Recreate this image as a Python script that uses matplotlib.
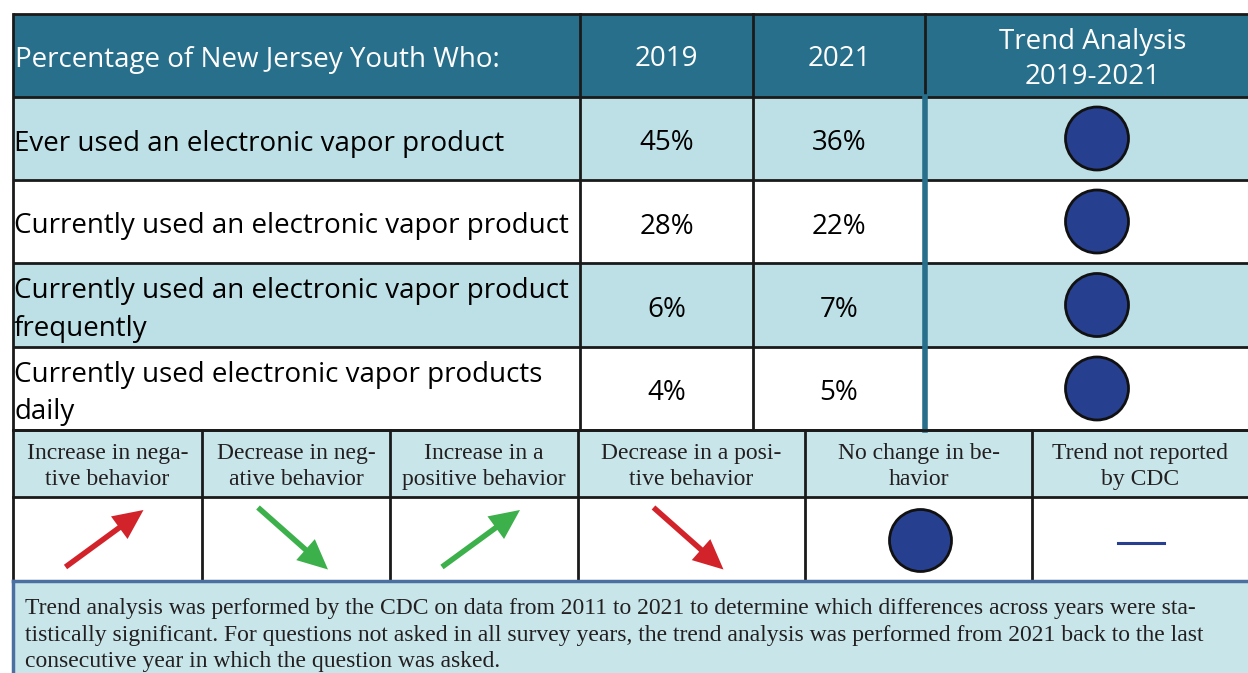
import matplotlib.pyplot as plt
from matplotlib.patches import Rectangle, Circle, FancyArrow

# table content
header = ['Percentage of New Jersey Youth Who:', '2019', '2021', 'Trend Analysis\n2019-2021']
behaviors = ['Ever used an electronic vapor product',
             'Currently used an electronic vapor product',
             'Currently used an electronic vapor product\nfrequently',
             'Currently used electronic vapor products\ndaily']
pct_2019 = ['45%', '28%', '6%', '4%']
pct_2021 = ['36%', '22%', '7%', '5%']
trend = ['nochange', 'nochange', 'nochange', 'nochange']

legend_labels = ['Increase in nega-\ntive behavior', 'Decrease in neg-\native behavior',
                 'Increase in a\npositive behavior', 'Decrease in a posi-\ntive behavior',
                 'No change in be-\nhavior', 'Trend not reported\nby CDC']
legend_kind = ['up_red', 'down_green', 'up_green', 'down_red', 'nochange', 'notreported']

footnote = ('Trend analysis was performed by the CDC on data from 2011 to 2021 to determine which differences across years were sta-\n'
            'tistically significant. For questions not asked in all survey years, the trend analysis was performed from 2021 back to the last\n'
            'consecutive year in which the question was asked.')

# colours
TEAL = '#276f8a'
LIGHT = '#bde0e6'
LEG_BG = '#c8e6ea'
DOT = '#263f8f'
RED = '#d2232a'
GREEN = '#3cb04a'

W, H = 1248, 673
fig = plt.figure(figsize=(W / 100, H / 100), dpi=100)
ax = fig.add_axes([0, 0, 1, 1])
ax.set_xlim(0, W)
ax.set_ylim(H, 0)
ax.axis('off')

sans = 'Open Sans'
serif = 'Liberation Serif'
FS = 20
SFS = 17

# layout of the main table
col_x = [13, 580, 753, 925, 1260]
row_y = [14, 97, 180, 263, 347, 430]

# header row
ax.add_patch(Rectangle((col_x[0], row_y[0]), col_x[-1] - col_x[0], row_y[1] - row_y[0],
                       facecolor=TEAL, edgecolor='none'))
ax.text(col_x[0] + 2, (row_y[0] + row_y[1]) / 2 + 4, header[0], fontsize=FS, family=sans,
        color='white', ha='left', va='center')
for j in range(1, 4):
    xc = (col_x[j] + col_x[j + 1]) / 2 if j < 3 else 1093
    ax.text(xc, (row_y[0] + row_y[1]) / 2 + 4, header[j], fontsize=FS, family=sans,
            color='white', ha='center', va='center', linespacing=1.34)

# body rows
for i, label in enumerate(behaviors):
    y0, y1 = row_y[i + 1], row_y[i + 2]
    yc = (y0 + y1) / 2
    bg = LIGHT if i % 2 == 0 else 'white'
    ax.add_patch(Rectangle((col_x[0], y0), col_x[-1] - col_x[0], y1 - y0,
                           facecolor=bg, edgecolor='none'))
    ax.text(col_x[0] + 1, yc + 5, label, fontsize=FS, family=sans, color='black',
            ha='left', va='center', linespacing=1.45)
    ax.text((col_x[1] + col_x[2]) / 2, yc + 5, pct_2019[i], fontsize=FS, family=sans,
            color='black', ha='center', va='center')
    ax.text((col_x[2] + col_x[3]) / 2, yc + 5, pct_2021[i], fontsize=FS, family=sans,
            color='black', ha='center', va='center')
    if trend[i] == 'nochange':
        ax.add_patch(Circle((1097, yc), 31.5, facecolor=DOT, edgecolor='#111111', lw=2))

# grid lines of the main table
for y in row_y:
    ax.plot([col_x[0], W], [y, y], color='#1a1a1a', lw=2, solid_capstyle='butt')
for x in col_x[:3]:
    ax.plot([x, x], [row_y[0], row_y[-1]], color='#1a1a1a', lw=2)
ax.plot([col_x[3], col_x[3]], [row_y[0], row_y[1]], color='#1a1a1a', lw=2)
ax.plot([col_x[3], col_x[3]], [row_y[1], row_y[-1]], color=TEAL, lw=4)

# legend table
leg_x = [13, 202, 390, 578, 805, 1032, 1260]
leg_y = [430, 497, 580]
ax.add_patch(Rectangle((leg_x[0], leg_y[0]), W - leg_x[0], leg_y[1] - leg_y[0],
                       facecolor=LEG_BG, edgecolor='none'))
for k, (lab, kind) in enumerate(zip(legend_labels, legend_kind)):
    xa, xb = leg_x[k], min(leg_x[k + 1], W)
    xc = (xa + xb) / 2
    ax.text(xc, (leg_y[0] + leg_y[1]) / 2 + 3, lab, fontsize=SFS, family=serif,
            color='#231f20', ha='center', va='center', linespacing=1.34)
    yc = (leg_y[1] + leg_y[2]) / 2
    if kind in ('up_red', 'up_green', 'down_red', 'down_green'):
        col = RED if 'red' in kind else GREEN
        dx, dy = (78, -57) if kind.startswith('up') else (70, 62)
        ax.add_patch(FancyArrow(xc - dx / 2 - 3, yc - dy / 2, dx, dy, width=5.5,
                                head_width=28, head_length=30, length_includes_head=True,
                                color=col, lw=0))
    elif kind == 'nochange':
        ax.add_patch(Circle((xc + 2, yc + 2), 31, facecolor=DOT, edgecolor='#111111', lw=2))
    else:
        ax.plot([xc - 22, xc + 24], [yc + 4, yc + 4], color=DOT, lw=2.2)

for y in leg_y[:2]:
    ax.plot([leg_x[0], W], [y, y], color='#1a1a1a', lw=2)
for x in leg_x[:-1]:
    ax.plot([x, x], [leg_y[0], leg_y[-1]], color='#1a1a1a', lw=2)

# footnote box
ax.add_patch(Rectangle((13, 580), W, 100, facecolor=LEG_BG, edgecolor='none'))
ax.plot([13, W], [581, 581], color='#4a6fa0', lw=2.5)
ax.plot([13, 13], [581, H], color='#4a6fa0', lw=2.5)
ax.text(25, 635, footnote, fontsize=SFS, family=serif, color='#231f20',
        ha='left', va='center', linespacing=1.34)

fig.savefig('out.png', dpi=100)
